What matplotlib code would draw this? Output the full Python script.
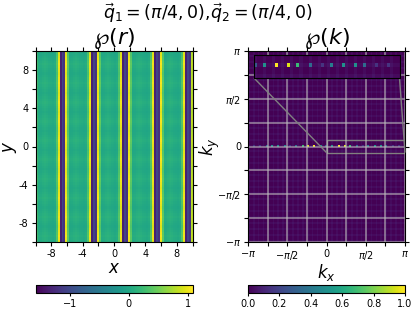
import numpy as np
import matplotlib
matplotlib.use('Agg')
import matplotlib.pyplot as plt
from mpl_toolkits.axes_grid1.inset_locator import mark_inset

# real space stripe, one value per column (0.25 wide), x from -10 to 10
stripe_r = [0.25, 0.04, 0.05, 0.08, 0.1, 0.08, 0.05, 0.04, 0.02, 0.05, 0.35, 0.98, -1.35, -1.05, -1.2, 1.0,
            0.4, 0.04, 0.05, 0.08, 0.1, 0.08, 0.05, 0.04, 0.02, 0.05, 0.35, 0.98, -1.35, -1.05, -1.2, 1.0,
            0.4, 0.04, 0.05, 0.08, 0.1, 0.08, 0.05, 0.04, 0.02, 0.05, 0.35, 0.98, -1.35, -1.05, -1.2, 1.0,
            0.4, 0.04, 0.05, 0.08, 0.1, 0.08, 0.05, 0.04, 0.02, 0.05, 0.35, 0.98, -1.35, -1.05, -1.2, 1.0,
            0.4, 0.04, 0.05, 0.08, 0.1, 0.08, 0.05, 0.04, 0.02, 0.05, 0.35, 0.98, -1.35, -1.05, -1.2, 0.8]
# weak banding along y, repeats every 8 rows
band_y = [0.0, 0.02, 0.04, 0.02, 0.0, -0.02, -0.04, -0.02]

# bright spots on the k_y=0 line
spot_kx = [0.02, 0.24, 0.47, 0.73, 0.97, 1.21, 1.45, 1.69, 1.93, 2.17, 2.41, 2.65, 2.89]
spot_amp = [0.28, 0.5, 1.0, 0.95, 0.68, 0.35, 0.15, 0.42, 0.5, 0.5, 0.35, 0.15, 0.15]
n_k = 96

r_map = np.array([[v + band_y[j % len(band_y)] * (v > 0) for v in stripe_r] for j in range(80)])

k_edges = np.linspace(-np.pi, np.pi, n_k + 1)
k_map = np.full((n_k, n_k), 0.0)
k_map[::3, :] = 0.025
k_map[:, ::3] += 0.025
for kx, amp in zip(spot_kx, spot_amp):
    i = np.searchsorted(k_edges, kx) - 1
    k_map[n_k // 2, i] = amp
    i = np.searchsorted(k_edges, -kx) - 1
    k_map[n_k // 2, i] = amp

fig = plt.figure(figsize=(4.15, 3.11), dpi=100)
fig.suptitle(r'$\vec{q}_1=(\pi/4,0)$,$\vec{q}_2=(\pi/4,0)$', fontsize=12.5, y=0.995)

ax1 = fig.add_axes([35.5 / 415, 1 - 242 / 311, 157 / 415, 191 / 311])
im1 = ax1.imshow(r_map, extent=[-10, 10, -10, 10], origin='lower', aspect='auto',
                 cmap='viridis', vmin=-1.58, vmax=1.08, interpolation='nearest')
ax1.set_title(r'$\wp(r)$', fontsize=16, pad=5)
ax1.set_xlabel(r'$x$', fontsize=12, labelpad=0)
ax1.set_ylabel(r'$y$', fontsize=12, labelpad=0)
ax1.set_xticks(np.arange(-10, 11, 2))
ax1.set_xticklabels(['', '-8', '', '-4', '', '0', '', '4', '', '8', ''])
ax1.set_yticks(np.arange(-10, 11, 2))
ax1.set_yticklabels(['', '-8', '', '-4', '', '0', '', '4', '', '8', ''])
ax1.tick_params(labelsize=7, top=True, right=True, pad=2, length=3)

pi_ticks = np.arange(-4, 5) * np.pi / 4
pi_labels = [r'$-\pi$', '', r'$-\pi/2$', '', '0', '', r'$\pi/2$', '', r'$\pi$']

ax2 = fig.add_axes([248 / 415, 1 - 242 / 311, 157 / 415, 191 / 311])
im2 = ax2.pcolormesh(k_edges, k_edges, k_map, cmap='viridis', vmin=0, vmax=1)
ax2.set_title(r'$\wp(k)$', fontsize=16, pad=5)
ax2.set_xlabel(r'$k_x$', fontsize=12, labelpad=0)
ax2.set_ylabel(r'$k_y$', fontsize=12, labelpad=-4)
ax2.set_xticks(pi_ticks)
ax2.set_xticklabels(pi_labels)
ax2.set_yticks(pi_ticks)
ax2.set_yticklabels(pi_labels)
ax2.tick_params(labelsize=7, top=True, right=True, pad=2, length=3)
ax2.grid(True, color='0.75', alpha=0.7, lw=1.1)

axins = ax2.inset_axes([6 / 157, 1 - 27 / 191, 145.5 / 157, 23 / 191])
axins.pcolormesh(k_edges, k_edges, k_map, cmap='viridis', vmin=0, vmax=1)
axins.set_xlim(0, np.pi)
axins.set_ylim(-0.2, 0.2)
axins.set_xticks([])
axins.set_yticks([])
mark_inset(ax2, axins, loc1=3, loc2=4, fc='none', ec='0.5', lw=1)

cax1 = fig.add_axes([35.5 / 415, 1 - 293 / 311, 157 / 415, 8 / 311])
cb1 = fig.colorbar(im1, cax=cax1, orientation='horizontal')
cb1.set_ticks([-1, 0, 1])
cb1.ax.tick_params(labelsize=7, pad=2, length=2.5)
cax2 = fig.add_axes([248 / 415, 1 - 293 / 311, 157 / 415, 8 / 311])
cb2 = fig.colorbar(im2, cax=cax2, orientation='horizontal')
cb2.set_ticks([0, 0.2, 0.4, 0.6, 0.8, 1.0])
cb2.ax.tick_params(labelsize=7, pad=2, length=2.5)

plt.savefig('out.png', dpi=100)
